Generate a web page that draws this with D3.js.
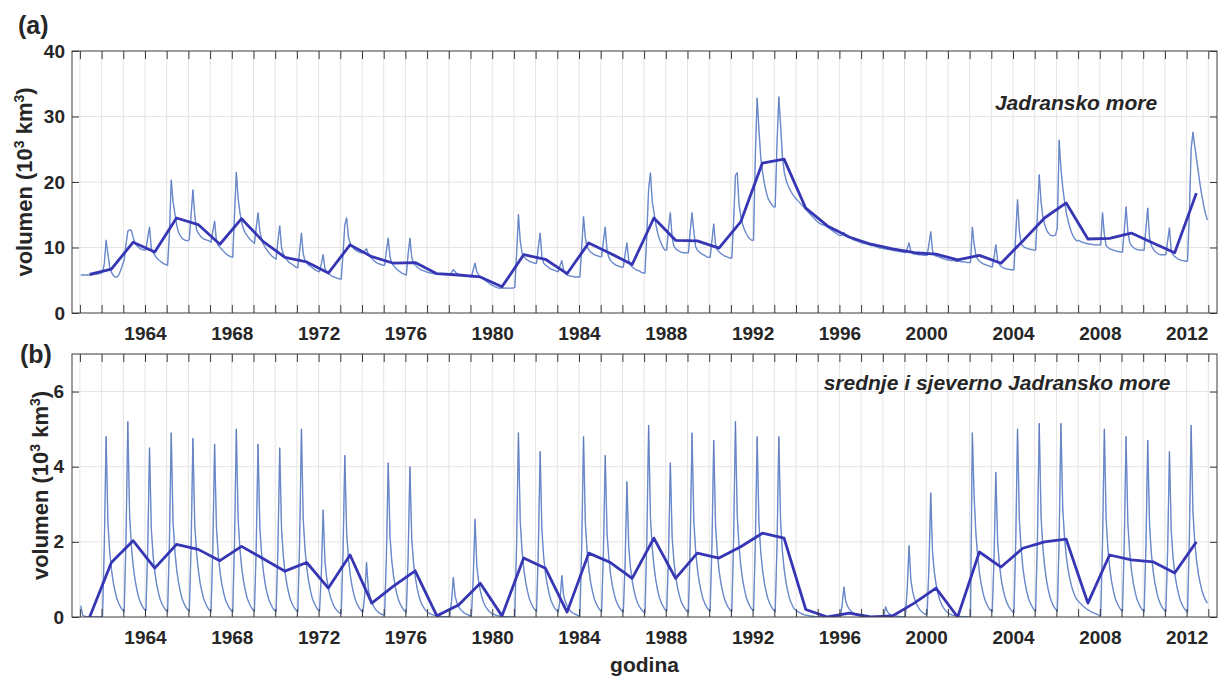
<!DOCTYPE html>
<html><head><meta charset="utf-8">
<script src="https://cdn.jsdelivr.net/npm/d3@7"></script>
<style>
body{margin:0;background:#fff}
text{font-family:"Liberation Sans",Arial,sans-serif;font-weight:bold;fill:#262626}
</style>
</head><body>
<svg id="c" width="1220" height="679"></svg>
<script>
// ---------- data ----------
const firstYear = 1961;
const tickYears = d3.range(1961, 2014);
const labelYears = [1964,1968,1972,1976,1980,1984,1988,1992,1996,2000,2004,2008,2012];
const yTicksA = [0,10,20,30,40];
const yTicksB = [0,2,4,6];
const titleA = "Jadransko more";
const titleB = "srednje i sjeverno Jadransko more";

// annual values (thick line), 1961..2012
const annualA = [5.9,6.7,10.8,9.3,14.5,13.5,10.5,14.4,10.9,8.5,7.8,6.1,10.4,8.6,7.6,7.7,6.0,5.8,5.5,4.0,
  8.9,8.2,6.0,10.7,9.1,7.4,14.5,11.1,11.0,9.9,13.9,22.9,23.5,16.0,13.3,11.6,10.5,9.8,9.2,9.0,
  8.1,8.8,7.6,11.0,14.5,16.8,11.3,11.4,12.2,10.7,9.2,18.3];
const annualB = [0.0,1.45,2.03,1.3,1.93,1.8,1.5,1.88,1.55,1.22,1.45,0.77,1.65,0.37,0.82,1.23,0.03,0.32,0.9,0.03,
  1.57,1.3,0.13,1.7,1.45,1.03,2.1,1.03,1.7,1.57,1.87,2.23,2.1,0.2,0.0,0.1,0.0,0.03,0.37,0.77,
  0.0,1.73,1.33,1.83,2.0,2.07,0.37,1.65,1.52,1.47,1.17,2.0];

// monthly values (thin line), one row per year 1961..2012, Jan..Dec
const monthlyA = [
[5.8,5.8,5.8,5.8,5.8,5.8,5.8,5.85,5.9,5.95,6.0,6.1],
[6.2,7.5,11.1,9.0,7.0,6.2,5.7,5.5,5.5,5.8,6.5,7.3],
[8.1,10.5,12.5,12.7,12.6,11.5,10.7,10.3,10.0,9.8,9.7,9.6],
[9.6,11.5,13.1,9.8,9.2,8.8,8.4,8.1,7.9,7.7,7.5,7.4],
[7.3,12.0,20.3,17.0,15.2,13.5,12.3,11.8,11.4,11.2,11.1,11.0],
[11.2,15.0,18.8,15.0,12.7,12.2,11.8,11.5,11.3,11.2,11.1,11.0],
[10.8,12.5,14.0,11.0,10.3,10.0,9.7,9.4,9.1,8.9,8.7,8.6],
[8.5,15.0,21.5,17.5,15.3,13.8,12.8,12.2,11.8,11.4,11.1,10.9],
[10.6,13.0,15.3,12.5,11.2,10.5,10.0,9.6,9.2,8.9,8.6,8.4],
[8.2,11.0,13.3,10.0,9.0,8.5,8.1,7.8,7.6,7.4,7.2,7.0],
[6.9,9.5,12.2,9.0,8.0,7.6,7.3,7.1,6.9,6.7,6.5,6.4],
[6.3,7.5,8.9,6.8,6.3,6.0,5.8,5.6,5.5,5.4,5.3,5.2],
[5.2,9.0,13.5,14.5,11.6,10.6,10.1,9.8,9.6,9.4,9.3,9.2],
[9.2,9.5,9.8,9.0,8.6,8.3,8.0,7.8,7.6,7.5,7.4,7.3],
[7.3,9.5,11.4,8.5,7.6,7.2,6.9,6.6,6.4,6.2,6.0,5.9],
[5.8,9.0,11.4,8.5,7.6,7.3,7.0,6.8,6.6,6.5,6.4,6.3],
[6.2,6.1,6.1,6.0,6.0,6.0,5.9,5.9,5.9,5.9,5.9,5.9],
[5.9,6.2,6.6,6.3,6.0,5.9,5.8,5.8,5.7,5.7,5.6,5.6],
[5.5,6.6,7.6,6.3,5.8,5.5,5.3,5.1,4.9,4.7,4.5,4.3],
[4.2,4.0,3.9,3.8,3.8,3.8,3.8,3.8,3.8,3.8,3.8,3.8],
[3.9,9.0,15.0,11.0,9.2,8.6,8.3,8.1,7.9,7.8,7.7,7.6],
[7.6,10.0,12.2,8.5,7.6,7.3,7.1,6.9,6.7,6.6,6.5,6.4],
[6.3,7.2,8.0,6.5,6.0,5.8,5.7,5.6,5.6,5.5,5.5,5.5],
[5.5,10.0,14.7,11.5,10.1,9.6,9.3,9.1,8.9,8.8,8.7,8.6],
[8.6,11.0,13.1,9.5,8.5,8.0,7.7,7.5,7.3,7.2,7.1,7.0],
[7.0,9.0,10.7,8.0,7.3,7.0,6.8,6.6,6.5,6.4,6.2,6.1],
[6.1,12.0,19.0,21.4,17.0,15.3,13.5,12.2,11.3,10.6,10.0,9.6],
[9.6,13.0,15.3,11.5,10.2,9.8,9.6,9.4,9.3,9.2,9.2,9.2],
[9.2,12.5,15.3,12.5,10.1,9.6,9.3,9.1,8.9,8.8,8.6,8.5],
[8.5,11.0,13.6,10.5,9.6,9.3,9.1,8.9,8.7,8.6,8.5,8.4],
[8.4,14.0,21.0,21.4,16.5,14.7,13.5,12.7,12.1,11.6,11.3,11.1],
[11.1,24.0,32.8,28.0,23.8,21.5,19.8,18.5,17.5,17.0,16.6,16.2],
[16.2,26.0,33.0,28.5,23.8,21.5,20.3,19.5,18.9,18.4,18.0,17.6],
[17.3,17.0,16.7,16.4,16.1,15.8,15.5,15.2,14.9,14.6,14.3,14.0],
[13.8,13.6,13.5,13.4,13.3,13.1,12.9,12.7,12.5,12.3,12.1,11.9],
[11.8,11.9,12.3,11.8,11.6,11.5,11.4,11.2,11.1,11.0,10.9,10.8],
[10.7,10.6,10.6,10.5,10.4,10.3,10.3,10.2,10.1,10.0,9.9,9.9],
[9.8,9.8,9.7,9.7,9.6,9.6,9.5,9.5,9.4,9.4,9.3,9.3],
[9.2,9.8,10.7,9.4,9.1,9.0,9.0,8.9,8.9,8.9,8.8,8.8],
[8.8,10.5,12.4,9.5,8.8,8.7,8.6,8.5,8.4,8.3,8.2,8.1],
[8.1,8.0,8.0,8.0,7.9,7.9,7.9,7.8,7.8,7.8,7.7,7.7],
[7.7,13.1,10.5,8.8,8.2,7.9,7.7,7.5,7.4,7.3,7.2,7.1],
[7.0,8.5,10.4,8.0,7.4,7.1,6.9,6.8,6.7,6.7,6.6,6.6],
[6.6,12.0,17.3,12.5,10.6,10.2,10.0,9.9,9.8,9.7,9.7,9.6],
[9.6,15.0,21.1,17.0,14.7,13.5,12.7,12.2,11.9,11.8,11.8,11.9],
[13.0,26.4,22.0,19.2,17.0,15.3,14.0,13.0,12.2,11.6,11.2,11.0],
[11.1,10.9,10.8,10.7,10.6,10.6,10.5,10.5,10.4,10.4,10.4,10.4],
[10.4,15.3,12.0,10.3,10.0,9.8,9.7,9.6,9.5,9.4,9.4,9.3],
[9.3,12.5,16.2,12.5,10.8,10.3,10.0,9.8,9.7,9.6,9.6,9.6],
[9.6,13.0,16.0,11.5,10.3,9.8,9.4,9.2,9.0,8.9,8.9,8.9],
[8.9,11.0,13.0,9.5,8.9,8.6,8.4,8.2,8.1,8.0,8.0,7.9],
[7.9,15.0,25.0,27.6,25.5,23.5,21.5,19.5,17.8,16.3,15.1,14.2]
];
const monthlyB = [
[0.30,0.05,0.02,0.01,0.01,0.0,0.0,0.0,0.0,0.0,0.0,0.0],
[0.02,1.92,4.8,2.5,1.73,1.25,0.91,0.67,0.48,0.36,0.26,0.19],
[0.14,2.08,5.2,2.7,1.87,1.35,0.99,0.73,0.52,0.39,0.29,0.21],
[0.16,1.8,4.5,2.34,1.62,1.17,0.86,0.63,0.45,0.34,0.25,0.18],
[0.14,1.96,4.9,2.55,1.76,1.27,0.93,0.69,0.49,0.37,0.27,0.2],
[0.15,1.9,4.75,2.47,1.71,1.24,0.9,0.67,0.48,0.36,0.26,0.19],
[0.14,1.84,4.6,2.39,1.66,1.2,0.87,0.64,0.46,0.35,0.25,0.18],
[0.14,2.0,5.0,2.6,1.8,1.3,0.95,0.7,0.5,0.38,0.28,0.2],
[0.15,1.84,4.6,2.39,1.66,1.2,0.87,0.64,0.46,0.35,0.25,0.18],
[0.14,1.8,4.5,2.34,1.62,1.17,0.86,0.63,0.45,0.34,0.25,0.18],
[0.14,2.0,5.0,2.6,1.8,1.3,0.95,0.7,0.5,0.38,0.28,0.2],
[0.15,1.14,2.85,1.48,1.03,0.74,0.54,0.4,0.29,0.21,0.16,0.11],
[0.09,1.72,4.3,2.24,1.55,1.12,0.82,0.6,0.43,0.32,0.24,0.17],
[0.13,0.58,1.45,0.75,0.52,0.38,0.28,0.2,0.15,0.11,0.08,0.06],
[0.05,1.64,4.1,2.13,1.48,1.07,0.78,0.57,0.41,0.31,0.23,0.16],
[0.12,1.6,4.0,2.08,1.44,1.04,0.76,0.56,0.4,0.3,0.22,0.16],
[0.12,0.09,0.07,0.05,0.04,0.03,0.02,0.02,0.01,0.01,0.01,0.01],
[0.01,0.42,1.05,0.55,0.38,0.27,0.2,0.15,0.11,0.08,0.06,0.04],
[0.03,1.04,2.6,1.35,0.94,0.68,0.49,0.36,0.26,0.2,0.14,0.1],
[0.08,0.06,0.04,0.03,0.02,0.02,0.01,0.01,0.01,0.0,0.0,0.0],
[0.0,1.96,4.9,2.55,1.76,1.27,0.93,0.69,0.49,0.37,0.27,0.2],
[0.15,1.76,4.4,2.29,1.58,1.14,0.84,0.62,0.44,0.33,0.24,0.18],
[0.13,0.44,1.1,0.57,0.4,0.29,0.21,0.15,0.11,0.08,0.06,0.04],
[0.03,1.92,4.8,2.5,1.73,1.25,0.91,0.67,0.48,0.36,0.26,0.19],
[0.14,1.72,4.3,2.24,1.55,1.12,0.82,0.6,0.43,0.32,0.24,0.17],
[0.13,1.44,3.6,1.87,1.3,0.94,0.68,0.5,0.36,0.27,0.2,0.14],
[0.11,2.04,5.1,2.65,1.84,1.33,0.97,0.71,0.51,0.38,0.28,0.2],
[0.15,1.64,4.1,2.13,1.48,1.07,0.78,0.57,0.41,0.31,0.23,0.16],
[0.12,1.96,4.9,2.55,1.76,1.27,0.93,0.69,0.49,0.37,0.27,0.2],
[0.15,1.88,4.7,2.44,1.69,1.22,0.89,0.66,0.47,0.35,0.26,0.19],
[0.14,2.08,5.2,2.7,1.87,1.35,0.99,0.73,0.52,0.39,0.29,0.21],
[0.16,1.92,4.8,2.5,1.73,1.25,0.91,0.67,0.48,0.36,0.26,0.19],
[0.14,1.92,4.8,2.5,1.73,1.25,0.91,0.67,0.48,0.36,0.26,0.19],
[0.16,0.13,0.1,0.08,0.06,0.05,0.04,0.03,0.02,0.02,0.01,0.01],
[0.01,0.01,0.0,0.0,0.0,0.0,0.0,0.0,0.0,0.0,0.0,0.0],
[0.0,0.32,0.8,0.42,0.29,0.21,0.15,0.11,0.08,0.06,0.04,0.03],
[0.02,0.02,0.01,0.01,0.01,0.0,0.0,0.0,0.0,0.0,0.0,0.0],
[0.0,0.27,0.15,0.08,0.06,0.04,0.03,0.02,0.02,0.01,0.01,0.01],
[0.01,0.76,1.9,0.99,0.68,0.49,0.36,0.27,0.19,0.14,0.1,0.08],
[0.06,1.32,3.3,1.72,1.19,0.86,0.63,0.46,0.33,0.25,0.18,0.13],
[0.1,0.07,0.05,0.04,0.03,0.02,0.02,0.01,0.01,0.01,0.0,0.0],
[0.0,4.9,3.2,2.2,1.6,1.15,0.85,0.62,0.45,0.34,0.25,0.18],
[0.14,1.54,3.85,2.0,1.39,1.0,0.73,0.54,0.39,0.29,0.21,0.15],
[0.11,2.0,5.0,2.6,1.8,1.3,0.95,0.7,0.5,0.38,0.28,0.2],
[0.15,2.06,5.15,2.68,1.85,1.34,0.98,0.72,0.52,0.39,0.28,0.21],
[0.15,2.06,5.15,2.9,2.1,1.6,1.25,1.0,0.8,0.65,0.53,0.45],
[0.4,0.35,0.3,0.26,0.22,0.19,0.16,0.13,0.11,0.09,0.07,0.05],
[0.04,2.0,5.0,2.6,1.8,1.3,0.95,0.7,0.5,0.38,0.28,0.2],
[0.15,1.92,4.8,2.5,1.73,1.25,0.91,0.67,0.48,0.36,0.26,0.19],
[0.14,1.88,4.7,2.44,1.69,1.22,0.89,0.66,0.47,0.35,0.26,0.19],
[0.14,1.76,4.4,2.29,1.58,1.14,0.84,0.62,0.44,0.33,0.24,0.18],
[0.13,2.04,5.1,2.8,2.0,1.5,1.15,0.9,0.7,0.55,0.45,0.37]
];

// ---------- drawing ----------
const svg = d3.select("#c");
const L = 72, R = 1217;
const x = d3.scaleLinear().domain([1960.636, 2013.40]).range([L, R]);

function toMonthly(rows){
  const pts = [];
  rows.forEach((row, i) => row.forEach((v, m) => pts.push([firstYear + i + (m + 0.5) / 12, v])));
  return pts;
}
function toAnnual(vals){ return vals.map((v, i) => [firstYear + i + 0.45, v]); }

const panels = [
  {id:"a", top:51, bottom:313, yMax:40, ticks:yTicksA, monthly:monthlyA, annual:annualA,
   label:"(a)", labelX:18, labelY:34, title:titleA, titleX:1076, titleY:110, ylabX:32, tickPad:7},
  {id:"b", top:354, bottom:617, yMax:7, ticks:yTicksB, monthly:monthlyB, annual:annualB,
   label:"(b)", labelX:20, labelY:363, title:titleB, titleX:997, titleY:390, ylabX:48, tickPad:8}
];

panels.forEach(p => {
  const y = d3.scaleLinear().domain([0, p.yMax]).range([p.bottom, p.top]);
  const g = svg.append("g");
  svg.append("defs").append("clipPath").attr("id", "clip" + p.id)
    .append("rect").attr("x", L).attr("y", p.top).attr("width", R - L).attr("height", p.bottom - p.top);

  // grid
  g.append("g").selectAll("line").data(tickYears).join("line")
    .attr("x1", d => x(d)).attr("x2", d => x(d)).attr("y1", p.top).attr("y2", p.bottom)
    .attr("stroke", "#e4e4e4").attr("stroke-width", 1);
  g.append("g").selectAll("line").data(p.ticks.filter(t => t > 0 && t < p.yMax)).join("line")
    .attr("x1", L).attr("x2", R).attr("y1", d => y(d)).attr("y2", d => y(d))
    .attr("stroke", "#e4e4e4").attr("stroke-width", 1);

  // lines
  const line = d3.line().x(d => x(d[0])).y(d => y(d[1]));
  const lg = g.append("g").attr("clip-path", `url(#clip${p.id})`);
  lg.append("path").datum(toMonthly(p.monthly)).attr("d", line)
    .attr("fill", "none").attr("stroke", "#7b9ee0").attr("stroke-width", 1.4).attr("stroke-linejoin", "round");
  lg.append("path").datum(toMonthly(p.monthly)).attr("d", line)
    .attr("fill", "none").attr("stroke", "#56679f").attr("stroke-width", 0.6).attr("stroke-opacity", 0.75).attr("stroke-linejoin", "round");
  lg.append("path").datum(toAnnual(p.annual)).attr("d", line)
    .attr("fill", "none").attr("stroke", "#3636b4").attr("stroke-width", 2.8).attr("stroke-linejoin", "round");

  // axes
  const axColor = "#3a3a3a";
  const bottomAx = g.append("g").attr("transform", `translate(0,${p.bottom})`)
    .call(d3.axisBottom(x).tickValues(tickYears).tickSize(-8).tickPadding(14)
      .tickFormat(d => labelYears.includes(d) ? String(d) : ""));
  const topAx = g.append("g").attr("transform", `translate(0,${p.top})`)
    .call(d3.axisTop(x).tickValues(tickYears).tickSize(-8).tickFormat(""));
  const leftAx = g.append("g").attr("transform", `translate(${L},0)`)
    .call(d3.axisLeft(y).tickValues(p.ticks).tickSize(-7).tickPadding(p.tickPad).tickFormat(d3.format("d")));
  const rightAx = g.append("g").attr("transform", `translate(${R},0)`)
    .call(d3.axisRight(y).tickValues(p.ticks).tickSize(-7).tickFormat(""));
  [bottomAx, topAx, leftAx, rightAx].forEach(a => {
    a.select(".domain").remove();
    a.selectAll(".tick line").attr("stroke", axColor).attr("stroke-width", 1);
    a.selectAll("text").attr("font-size", 19).attr("fill", "#262626")
      .style("font-family", '"Liberation Sans",Arial,sans-serif').style("font-weight", "bold");
  });
  g.append("rect").attr("x", L).attr("y", p.top).attr("width", R - L).attr("height", p.bottom - p.top)
    .attr("fill", "none").attr("stroke", axColor).attr("stroke-width", 1);

  // y label
  const yl = g.append("text").attr("transform", `translate(${p.ylabX},${(p.top + p.bottom) / 2}) rotate(-90)`)
    .attr("text-anchor", "middle").attr("font-size", 22);
  yl.append("tspan").text("volumen (10");
  yl.append("tspan").attr("baseline-shift", "super").attr("font-size", 14).text("3");
  yl.append("tspan").text(" km");
  yl.append("tspan").attr("baseline-shift", "super").attr("font-size", 14).text("3");
  yl.append("tspan").text(")");

  // panel label and title
  g.append("text").attr("x", p.labelX).attr("y", p.labelY).attr("font-size", 25).text(p.label);
  g.append("text").attr("x", p.titleX).attr("y", p.titleY).attr("text-anchor", "middle")
    .attr("font-size", 21).attr("font-style", "italic").attr("fill", "#1a1a1a").text(p.title);
});

svg.append("text").attr("x", (L + R) / 2).attr("y", 672).attr("text-anchor", "middle")
  .attr("font-size", 21).text("godina");
</script>
</body></html>
